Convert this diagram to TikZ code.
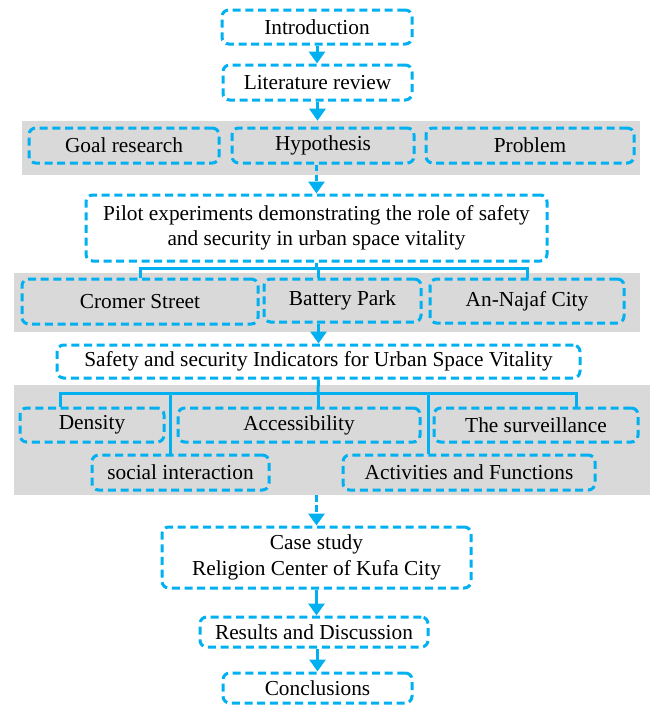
\documentclass[tikz,border=0pt]{standalone}
\usepackage{fontspec}
\setmainfont{Liberation Serif}
\usetikzlibrary{fit,arrows.meta}
\definecolor{lineblue}{RGB}{0,176,240}
\definecolor{bandgray}{RGB}{217,217,217}
\newcommand\boxnode[6]{\node[box, minimum width=#4*0.75pt-#2*0.75pt, minimum height=#5*0.75pt-#3*0.75pt] (#1) at ({(#2+#4)/2},{(#3+#5)/2}) {#6};}
\begin{document}
\begin{tikzpicture}[x=0.75pt,y=-0.75pt,
 box/.style={draw=lineblue, line width=2.25pt, dash pattern=on 6pt off 3.5pt, rounded corners=5pt, inner sep=0pt, align=center, font=\fontsize{16}{19}\selectfont},
 band/.style={fill=bandgray, inner sep=0pt},
 arr/.style={draw=lineblue, line width=2.25pt, -{Triangle[width=12pt,length=9pt]}},
 darr/.style={arr, dash pattern=on 5pt off 2.5pt},
 tree/.style={draw=lineblue, line width=2.25pt}]
\useasboundingbox (0,0) rectangle (651,708);
\node[band, fit={(22,121)(640,175)}] (band1) {};
\node[band, fit={(14,273)(640,332)}] (band2) {};
\node[band, fit={(14,385)(650,495)}] (band3) {};
\boxnode{intro}{222}{10}{412}{44}{Introduction}
\boxnode{lit}{223}{65}{412}{100}{Literature review}
\boxnode{goal}{29}{128}{219}{163}{Goal research}
\boxnode{hyp}{232}{128}{414}{163}{Hypothesis}
\boxnode{prob}{426}{128}{634}{163}{Problem}
\boxnode{pilot}{86}{195}{547}{261}{Pilot experiments demonstrating the role of safety\\and security in urban space vitality}
\boxnode{cromer}{22}{279}{258}{324}{Cromer Street}
\boxnode{battery}{264}{279}{421}{322}{Battery Park}
\boxnode{najaf}{430}{279}{624}{323}{An-Najaf City}
\boxnode{safety}{57}{345}{580}{378}{Safety and security Indicators for Urban Space Vitality}
\boxnode{density}{20}{408}{164}{442}{Density}
\boxnode{access}{178}{408}{420}{442}{Accessibility}
\boxnode{surv}{434}{408}{638}{442}{The surveillance}
\boxnode{social}{92}{455}{269}{490}{social interaction}
\boxnode{activ}{343}{455}{595}{490}{Activities and Functions}
\boxnode{case}{162}{527}{471}{588}{Case study\\Religion Center of Kufa City}
\boxnode{results}{200}{617}{428}{647}{Results and Discussion}
\boxnode{concl}{223}{673}{412}{703}{Conclusions}
% connectors
\draw[arr] (intro.south) -- (intro.south |- lit.north);
\draw[arr] (lit.south) -- (lit.south |- band1.north);
\draw[darr] (pilot.north |- hyp.south) -- (pilot.north);
\coordinate (j1) at (318,268);
\draw[tree] (pilot.south) -- (pilot.south |- j1);
\draw[tree] (cromer.north) |- (j1) -| (najaf.north);
\draw[tree] (j1) -- (j1 |- battery.north);
\draw[arr] (battery.south -| safety.north) -- (safety.north);
\coordinate (j2) at (318,393);
\coordinate (dL) at (60,393);
\coordinate (sR) at (576,393);
\coordinate (sI) at (170,393);
\coordinate (aI) at (428,393);
\draw[tree] (safety.south) -- (j2);
\draw[tree] (dL |- density.north) -- (dL) -- (sR) -- (sR |- surv.north);
\draw[tree] (j2) -- (j2 |- access.north);
\draw[tree] (sI) -- (sI |- social.north);
\draw[tree] (aI) -- (aI |- activ.north);
\draw[darr] (band3.south -| case.north) -- (case.north);
\draw[arr] (case.south) -- (case.south |- results.north);
\draw[arr] (concl.north |- results.south) -- (concl.north);
\end{tikzpicture}
\end{document}
